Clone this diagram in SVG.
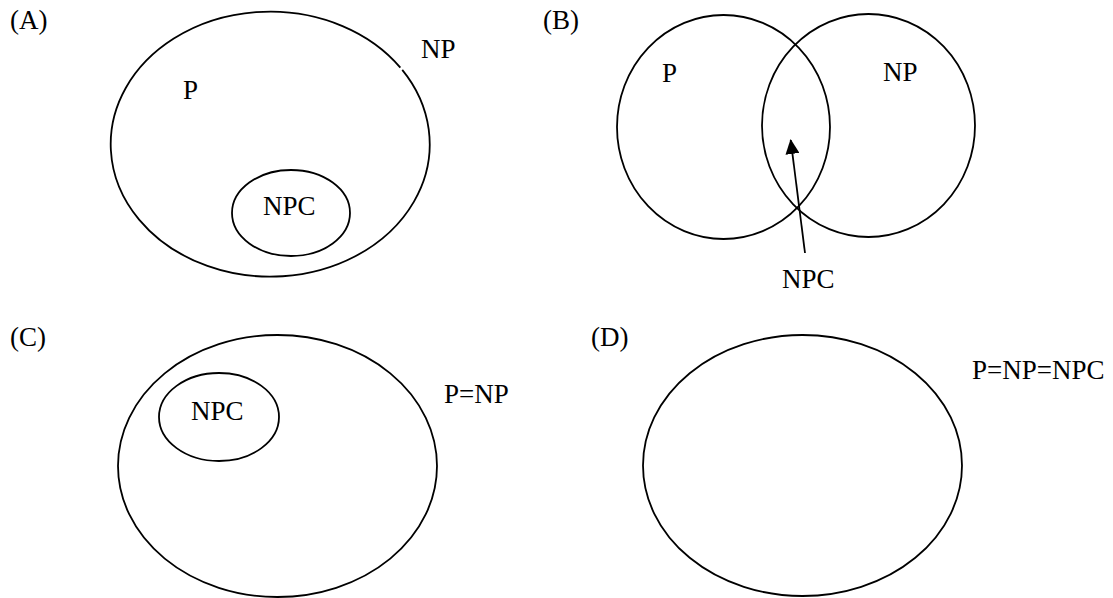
<svg xmlns="http://www.w3.org/2000/svg" width="1113" height="598" viewBox="0 0 1113 598">
<defs>
<style>
.s{fill:none;stroke:#000;stroke-width:1.8}
text{font-family:"Liberation Serif","Times New Roman",serif;font-size:27px;fill:#000}
</style>
<marker id="ah" markerWidth="15" markerHeight="14" refX="14" refY="7" orient="auto" markerUnits="userSpaceOnUse">
<path d="M0,0 L15,7 L0,14 Z" fill="#000"/>
</marker>
</defs>
<rect width="1113" height="598" fill="#fff"/>
<g id="panelA">
<text x="10" y="29">(A)</text>
<g id="A-NP"><path class="s" d="M402.26 69.84 A159.5 132.5 0 1 1 400.35 67.55"/><text x="421" y="58">NP</text></g>
<g id="A-P"><text x="183" y="99">P</text></g>
<g id="A-NPC"><ellipse class="s" cx="291" cy="213" rx="59" ry="43"/><text x="263" y="215">NPC</text></g>
</g>
<g id="panelB">
<text x="543" y="29">(B)</text>
<g id="B-P"><ellipse class="s" cx="723.5" cy="127" rx="106.5" ry="112"/><text x="662" y="82">P</text></g>
<g id="B-NP"><ellipse class="s" cx="868.5" cy="125.5" rx="106.5" ry="111.5"/><text x="883" y="81">NP</text></g>
<g id="B-NPC"><text x="782" y="288">NPC</text></g>
</g>
<g id="panelC">
<text x="10" y="346">(C)</text>
<g id="C-PNP"><ellipse class="s" cx="277.5" cy="466" rx="159.5" ry="131"/><text x="444" y="403">P=NP</text></g>
<g id="C-NPC"><ellipse class="s" cx="219" cy="417" rx="60" ry="44"/><text x="191" y="420">NPC</text></g>
</g>
<g id="panelD">
<text x="591" y="346">(D)</text>
<g id="D-all"><ellipse class="s" cx="802.5" cy="465.5" rx="159.5" ry="130.5"/><text x="972" y="379">P=NP=NPC</text></g>
</g>
<g id="connectors">
<line class="s" x1="805" y1="253" x2="790.7" y2="140" marker-end="url(#ah)"/>
</g>
</svg>
